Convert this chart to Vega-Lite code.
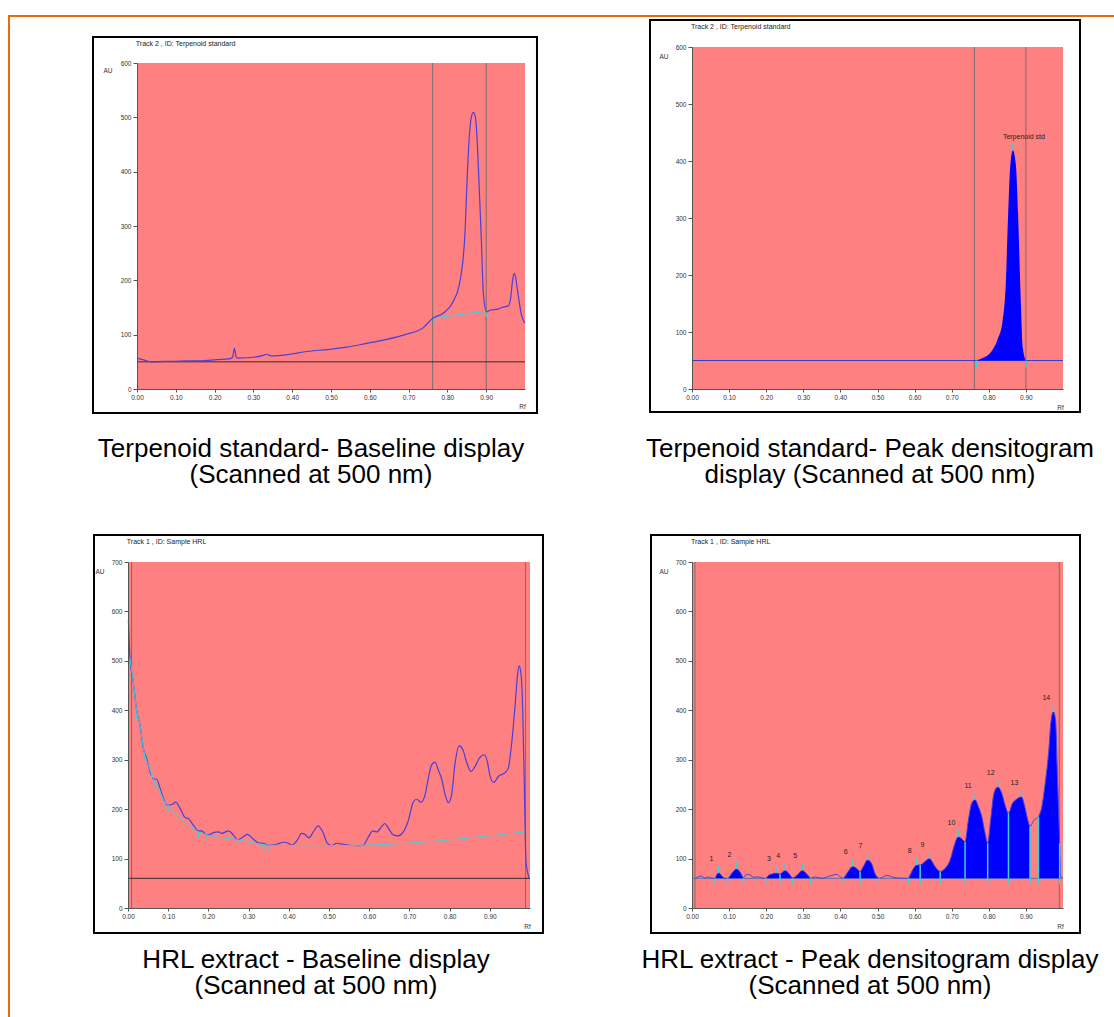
{
"$schema":"https://vega.github.io/schema/vega-lite/v6.json",
"background":"white",
"padding":0,
"columns":2,
"spacing":{"row":86,"column":0},
"bounds":"flush",
"align":"each",
"config":{
 "view":{"stroke":null},
 "axis":{"grid":false,"labelFont":"Liberation Sans","labelFontSize":6.5,"labelColor":"#333","tickColor":"#555","domainColor":"#555","tickSize":3,"labelPadding":2,"titleFont":"Liberation Sans","titleFontSize":6.5,"titleFontWeight":"normal","titleColor":"#333","labelOverlap":false,"labelFlush":false},
 "axisY":{"tickSize":4},
 "text":{"font":"Liberation Sans"}
},
"datasets":{
 "p1curve":[{"rf":0,"au":57},{"rf":0.015,"au":54},{"rf":0.038,"au":50},{"rf":0.07,"au":51},{"rf":0.094,"au":51},{"rf":0.13,"au":52},{"rf":0.162,"au":52},{"rf":0.205,"au":54},{"rf":0.24,"au":56},{"rf":0.246,"au":58},{"rf":0.251,"au":75},{"rf":0.256,"au":58},{"rf":0.261,"au":57},{"rf":0.308,"au":59},{"rf":0.325,"au":62},{"rf":0.334,"au":64},{"rf":0.345,"au":61},{"rf":0.394,"au":64},{"rf":0.437,"au":69},{"rf":0.497,"au":73},{"rf":0.54,"au":77},{"rf":0.592,"au":84},{"rf":0.635,"au":90},{"rf":0.695,"au":101},{"rf":0.738,"au":113},{"rf":0.762,"au":130},{"rf":0.79,"au":140},{"rf":0.815,"au":161},{"rf":0.832,"au":197},{"rf":0.845,"au":283},{"rf":0.852,"au":406},{"rf":0.858,"au":479},{"rf":0.863,"au":504},{"rf":0.867,"au":509},{"rf":0.871,"au":504},{"rf":0.875,"au":479},{"rf":0.88,"au":406},{"rf":0.887,"au":283},{"rf":0.893,"au":173},{"rf":0.901,"au":142},{"rf":0.91,"au":145},{"rf":0.931,"au":147},{"rf":0.94,"au":150},{"rf":0.957,"au":153},{"rf":0.963,"au":167},{"rf":0.968,"au":200},{"rf":0.972,"au":213},{"rf":0.976,"au":205},{"rf":0.98,"au":185},{"rf":0.991,"au":136},{"rf":1,"au":121}],
 "p1base":[{"rf":0.765,"au":131},{"rf":0.9,"au":143}],
 "p1vline":[{"rf":0.762},{"rf":0.9}],
 "p2peak":[{"rf":0.767,"au":50},{"rf":0.785,"au":55},{"rf":0.806,"au":65},{"rf":0.823,"au":86},{"rf":0.837,"au":118},{"rf":0.846,"au":188},{"rf":0.852,"au":305},{"rf":0.858,"au":393},{"rf":0.865,"au":419},{"rf":0.873,"au":393},{"rf":0.879,"au":305},{"rf":0.886,"au":159},{"rf":0.892,"au":71},{"rf":0.9,"au":50}],
 "p2vline":[{"rf":0.761},{"rf":0.9}],
 "p2brk":[{"rf":0.767},{"rf":0.9}],
 "p2top":[{"rf":0.865,"au":419,"name":"Terpenoid std"}],
 "p3curve":[{"rf":0.001,"au":583},{"rf":0.005,"au":505},{"rf":0.013,"au":458},{"rf":0.022,"au":397},{"rf":0.03,"au":370},{"rf":0.038,"au":323},{"rf":0.046,"au":303},{"rf":0.055,"au":276},{"rf":0.063,"au":261},{"rf":0.071,"au":261},{"rf":0.08,"au":242},{"rf":0.09,"au":218},{"rf":0.1,"au":208},{"rf":0.111,"au":210},{"rf":0.119,"au":214},{"rf":0.129,"au":202},{"rf":0.142,"au":183},{"rf":0.15,"au":181},{"rf":0.163,"au":167},{"rf":0.175,"au":156},{"rf":0.183,"au":156},{"rf":0.196,"au":148},{"rf":0.204,"au":149},{"rf":0.214,"au":153},{"rf":0.225,"au":154},{"rf":0.233,"au":151},{"rf":0.25,"au":156},{"rf":0.262,"au":148},{"rf":0.272,"au":138},{"rf":0.283,"au":142},{"rf":0.297,"au":149},{"rf":0.312,"au":139},{"rf":0.324,"au":132},{"rf":0.337,"au":131},{"rf":0.349,"au":127},{"rf":0.37,"au":129},{"rf":0.386,"au":133},{"rf":0.399,"au":131},{"rf":0.407,"au":127},{"rf":0.42,"au":136},{"rf":0.432,"au":151},{"rf":0.44,"au":149},{"rf":0.45,"au":142},{"rf":0.461,"au":154},{"rf":0.473,"au":166},{"rf":0.486,"au":151},{"rf":0.496,"au":131},{"rf":0.507,"au":126},{"rf":0.519,"au":131},{"rf":0.536,"au":129},{"rf":0.552,"au":127},{"rf":0.569,"au":126},{"rf":0.585,"au":127},{"rf":0.598,"au":144},{"rf":0.609,"au":156},{"rf":0.619,"au":154},{"rf":0.631,"au":165},{"rf":0.639,"au":171},{"rf":0.648,"au":161},{"rf":0.66,"au":148},{"rf":0.672,"au":146},{"rf":0.685,"au":154},{"rf":0.697,"au":176},{"rf":0.71,"au":215},{"rf":0.718,"au":220},{"rf":0.729,"au":214},{"rf":0.739,"au":229},{"rf":0.747,"au":262},{"rf":0.755,"au":289},{"rf":0.764,"au":295},{"rf":0.772,"au":279},{"rf":0.78,"au":262},{"rf":0.789,"au":229},{"rf":0.797,"au":213},{"rf":0.805,"au":229},{"rf":0.813,"au":289},{"rf":0.824,"au":328},{"rf":0.833,"au":320},{"rf":0.842,"au":296},{"rf":0.853,"au":276},{"rf":0.863,"au":286},{"rf":0.874,"au":303},{"rf":0.886,"au":310},{"rf":0.894,"au":296},{"rf":0.9,"au":269},{"rf":0.91,"au":254},{"rf":0.921,"au":266},{"rf":0.938,"au":274},{"rf":0.946,"au":283},{"rf":0.954,"au":330},{"rf":0.963,"au":411},{"rf":0.969,"au":471},{"rf":0.973,"au":490},{"rf":0.978,"au":471},{"rf":0.982,"au":397},{"rf":0.986,"au":242},{"rf":0.99,"au":94},{"rf":0.998,"au":60}],
 "p3base":[{"rf":0.005,"au":505},{"rf":0.013,"au":458},{"rf":0.022,"au":397},{"rf":0.03,"au":370},{"rf":0.04,"au":316},{"rf":0.05,"au":290},{"rf":0.063,"au":262},{"rf":0.075,"au":245},{"rf":0.09,"au":217},{"rf":0.1,"au":208},{"rf":0.175,"au":154},{"rf":0.197,"au":148},{"rf":0.272,"au":138},{"rf":0.35,"au":127},{"rf":0.45,"au":126},{"rf":0.58,"au":127},{"rf":0.988,"au":154}],
 "p3tick":[{"rf":0.022,"au":394},{"rf":0.04,"au":313},{"rf":0.059,"au":275},{"rf":0.067,"au":258},{"rf":0.092,"au":216},{"rf":0.1,"au":208},{"rf":0.175,"au":154},{"rf":0.197,"au":148},{"rf":0.272,"au":138},{"rf":0.341,"au":128},{"rf":0.351,"au":127},{"rf":0.561,"au":126},{"rf":0.581,"au":127}],
 "p3vline":[{"rf":0.009},{"rf":0.989}],
 "p4curve":[{"rf":0.008,"au":60,"seg":""},{"rf":0.017,"au":63,"seg":""},{"rf":0.026,"au":65,"seg":""},{"rf":0.035,"au":60,"seg":""},{"rf":0.044,"au":63,"seg":""},{"rf":0.053,"au":60,"seg":""},{"rf":0.062,"au":60,"seg":"A"},{"rf":0.068,"au":69,"seg":"A"},{"rf":0.073,"au":71,"seg":"A"},{"rf":0.08,"au":65,"seg":"A"},{"rf":0.089,"au":60,"seg":"A"},{"rf":0.096,"au":60,"seg":"A"},{"rf":0.107,"au":70,"seg":"A"},{"rf":0.12,"au":79,"seg":"A"},{"rf":0.131,"au":71,"seg":"A"},{"rf":0.138,"au":61,"seg":"A"},{"rf":0.147,"au":68,"seg":""},{"rf":0.156,"au":67,"seg":""},{"rf":0.167,"au":62,"seg":""},{"rf":0.179,"au":63,"seg":""},{"rf":0.188,"au":61,"seg":""},{"rf":0.199,"au":60,"seg":"B"},{"rf":0.208,"au":67,"seg":"B"},{"rf":0.217,"au":69,"seg":"B"},{"rf":0.226,"au":71,"seg":"B"},{"rf":0.237,"au":69,"seg":"B"},{"rf":0.251,"au":76,"seg":"B"},{"rf":0.264,"au":67,"seg":"B"},{"rf":0.271,"au":61,"seg":"B"},{"rf":0.284,"au":67,"seg":"B"},{"rf":0.297,"au":76,"seg":"B"},{"rf":0.309,"au":69,"seg":"B"},{"rf":0.32,"au":60,"seg":"B"},{"rf":0.332,"au":63,"seg":""},{"rf":0.35,"au":60,"seg":""},{"rf":0.372,"au":65,"seg":""},{"rf":0.39,"au":68,"seg":""},{"rf":0.401,"au":62,"seg":""},{"rf":0.408,"au":60,"seg":"C"},{"rf":0.421,"au":74,"seg":"C"},{"rf":0.433,"au":84,"seg":"C"},{"rf":0.444,"au":80,"seg":"C"},{"rf":0.453,"au":74,"seg":"C"},{"rf":0.462,"au":84,"seg":"C"},{"rf":0.473,"au":97,"seg":"C"},{"rf":0.484,"au":90,"seg":"C"},{"rf":0.493,"au":70,"seg":"C"},{"rf":0.505,"au":60,"seg":"C"},{"rf":0.516,"au":63,"seg":""},{"rf":0.525,"au":66,"seg":""},{"rf":0.543,"au":62,"seg":""},{"rf":0.57,"au":60,"seg":""},{"rf":0.583,"au":60,"seg":"D"},{"rf":0.597,"au":80,"seg":"D"},{"rf":0.606,"au":87,"seg":"D"},{"rf":0.615,"au":87,"seg":"D"},{"rf":0.628,"au":94,"seg":"D"},{"rf":0.64,"au":100,"seg":"D"},{"rf":0.655,"au":84,"seg":"D"},{"rf":0.669,"au":74,"seg":"D"},{"rf":0.682,"au":80,"seg":"D"},{"rf":0.696,"au":97,"seg":"D"},{"rf":0.706,"au":124,"seg":"D"},{"rf":0.718,"au":144,"seg":"D"},{"rf":0.727,"au":140,"seg":"D"},{"rf":0.736,"au":134,"seg":"D"},{"rf":0.745,"au":178,"seg":"D"},{"rf":0.754,"au":212,"seg":"D"},{"rf":0.763,"au":219,"seg":"D"},{"rf":0.772,"au":205,"seg":"D"},{"rf":0.781,"au":185,"seg":"D"},{"rf":0.79,"au":151,"seg":"D"},{"rf":0.797,"au":131,"seg":"D"},{"rf":0.805,"au":178,"seg":"D"},{"rf":0.814,"au":232,"seg":"D"},{"rf":0.824,"au":245,"seg":"D"},{"rf":0.835,"au":232,"seg":"D"},{"rf":0.844,"au":208,"seg":"D"},{"rf":0.853,"au":192,"seg":"D"},{"rf":0.864,"au":212,"seg":"D"},{"rf":0.875,"au":220,"seg":"D"},{"rf":0.888,"au":225,"seg":"D"},{"rf":0.897,"au":205,"seg":"D"},{"rf":0.905,"au":178,"seg":"D"},{"rf":0.911,"au":165,"seg":"D"},{"rf":0.922,"au":178,"seg":""},{"rf":0.934,"au":185,"seg":"E"},{"rf":0.943,"au":205,"seg":"E"},{"rf":0.952,"au":252,"seg":"E"},{"rf":0.961,"au":313,"seg":"E"},{"rf":0.968,"au":380,"seg":"E"},{"rf":0.974,"au":397,"seg":"E"},{"rf":0.98,"au":380,"seg":"E"},{"rf":0.985,"au":266,"seg":"E"},{"rf":0.991,"au":131,"seg":"E"},{"rf":0.994,"au":63,"seg":"E"},{"rf":0.998,"au":60,"seg":""}],
 "p4sep":[{"rf":0.237,"au":69},{"rf":0.453,"au":74},{"rf":0.615,"au":87},{"rf":0.669,"au":74},{"rf":0.736,"au":134},{"rf":0.797,"au":131},{"rf":0.853,"au":192},{"rf":0.911,"au":165},{"rf":0.934,"au":185},{"rf":0.991,"au":131}],
 "p4brk":[{"rf":0.062},{"rf":0.096},{"rf":0.138},{"rf":0.199},{"rf":0.237},{"rf":0.271},{"rf":0.32},{"rf":0.408},{"rf":0.453},{"rf":0.505},{"rf":0.583},{"rf":0.615},{"rf":0.669},{"rf":0.736},{"rf":0.797},{"rf":0.853},{"rf":0.911},{"rf":0.934},{"rf":0.991}],
 "p4peak":[{"peak":"1","rf":0.071,"au":71},{"peak":"2","rf":0.12,"au":79},{"peak":"3","rf":0.226,"au":71},{"peak":"4","rf":0.251,"au":76},{"peak":"5","rf":0.297,"au":76},{"peak":"6","rf":0.433,"au":84},{"peak":"7","rf":0.473,"au":97},{"peak":"8","rf":0.606,"au":87},{"peak":"9","rf":0.64,"au":100},{"peak":"10","rf":0.718,"au":144},{"peak":"11","rf":0.763,"au":219},{"peak":"12","rf":0.824,"au":245},{"peak":"13","rf":0.888,"au":225},{"peak":"14","rf":0.974,"au":397}],
 "p4vline":[{"rf":0.008},{"rf":0.99}]
},
"concat":[
 {
  "width":557,"height":414,
  "layer":[
   {"data":{"values":[{}]},"mark":{"type":"rect","fill":"white","stroke":"black","strokeWidth":2},
    "encoding":{"x":{"datum":-0.1134,"type":"quantitative","scale":{"domain":[0,1],"range":[137,525],"nice":false,"zero":false}},"x2":{"datum":1.0309},"y":{"datum":-44.2,"type":"quantitative","scale":{"domain":[0,600],"range":[389,63],"nice":false,"zero":false}},"y2":{"datum":647.9}}},
   {"data":{"values":[{}]},"mark":{"type":"rule","color":"#E46C0A","strokeWidth":2},
    "encoding":{"x":{"datum":-0.3325,"type":"quantitative"},"x2":{"datum":2.6},"y":{"datum":686.5,"type":"quantitative"}}},
   {"data":{"values":[{}]},"mark":{"type":"rule","color":"#E46C0A","strokeWidth":2},
    "encoding":{"x":{"datum":-0.3299,"type":"quantitative"},"y":{"datum":688,"type":"quantitative"},"y2":{"datum":-1200}}},
   {"data":{"values":[{}]},"mark":{"type":"rect","fill":"#FF8080"},
    "encoding":{"x":{"datum":0,"type":"quantitative"},"x2":{"datum":1},"y":{"datum":0,"type":"quantitative"},"y2":{"datum":600}}},
   {"data":{"name":"p1vline"},"mark":{"type":"rule","color":"#786c6c","strokeWidth":1},
    "encoding":{"x":{"field":"rf","type":"quantitative"},"y":{"datum":0,"type":"quantitative"},"y2":{"datum":600}}},
   {"data":{"values":[{}]},"mark":{"type":"rule","color":"#3b2b2b","strokeWidth":1},
    "encoding":{"x":{"datum":0,"type":"quantitative"},"x2":{"datum":1},"y":{"datum":50,"type":"quantitative"}}},
   {"data":{"name":"p1base"},"mark":{"type":"line","color":"#3fcfd6","strokeWidth":1.2},
    "encoding":{"x":{"field":"rf","type":"quantitative"},"y":{"field":"au","type":"quantitative"}}},
   {"data":{"name":"p1base"},"mark":{"type":"rule","color":"#3fcfd6","strokeWidth":1.5,"y2Offset":6},
    "encoding":{"x":{"field":"rf","type":"quantitative"},"y":{"field":"au","type":"quantitative"},"y2":{"field":"au"}}},
   {"data":{"name":"p1curve"},"mark":{"type":"line","color":"#4b3fd9","strokeWidth":1.2,"interpolate":"monotone"},
    "encoding":{"x":{"field":"rf","type":"quantitative","scale":{"domain":[0,1],"range":[137,525],"nice":false,"zero":false},"axis":{"values":[0,0.1,0.2,0.3,0.4,0.5,0.6,0.7,0.8,0.9],"format":".2f","offset":-25,"title":"Rf","titleX":522,"titleY":14,"zindex":1}},
     "y":{"field":"au","type":"quantitative","scale":{"domain":[0,600],"range":[389,63],"nice":false,"zero":false},"axis":{"values":[0,100,200,300,400,500,600],"format":"d","offset":-137,"title":"AU","titleAngle":0,"titleAlign":"left","titleBaseline":"middle","titleX":-34,"titleY":70,"zindex":1}}}},
   {"data":{"values":[{}]},"mark":{"type":"text","align":"left","baseline":"middle","fontSize":7,"color":"#222"},
    "encoding":{"x":{"datum":-0.003,"type":"quantitative"},"y":{"datum":635,"type":"quantitative"},"text":{"value":"Track  2 , ID: Terpenoid standard"}}},
   {"data":{"values":[{}]},"mark":{"type":"text","align":"center","baseline":"alphabetic","fontSize":26,"lineHeight":26,"color":"#000"},
    "encoding":{"x":{"datum":0.4485,"type":"quantitative"},"y":{"datum":-125.2,"type":"quantitative"},"text":{"value":["Terpenoid standard- Baseline display","(Scanned at 500 nm)"]}}}
  ]
 },
 {
  "width":557,"height":414,
  "layer":[
   {"data":{"values":[{}]},"mark":{"type":"rect","fill":"white","stroke":"black","strokeWidth":2},
    "encoding":{"x":{"datum":-0.1132,"type":"quantitative","scale":{"domain":[0,1],"range":[135,506],"nice":false,"zero":false}},"x2":{"datum":1.0458},"y":{"datum":-40.4,"type":"quantitative","scale":{"domain":[0,600],"range":[389,47],"nice":false,"zero":false}},"y2":{"datum":647.4}}},
   {"data":{"values":[{}]},"mark":{"type":"rect","fill":"#FF8080"},
    "encoding":{"x":{"datum":0,"type":"quantitative"},"x2":{"datum":1},"y":{"datum":0,"type":"quantitative"},"y2":{"datum":600}}},
   {"data":{"name":"p2vline"},"mark":{"type":"rule","color":"#786c6c","strokeWidth":1},
    "encoding":{"x":{"field":"rf","type":"quantitative"},"y":{"datum":0,"type":"quantitative"},"y2":{"datum":600}}},
   {"data":{"values":[{}]},"mark":{"type":"rule","color":"#3a3ad0","strokeWidth":1},
    "encoding":{"x":{"datum":0,"type":"quantitative"},"x2":{"datum":1},"y":{"datum":50,"type":"quantitative"}}},
   {"data":{"name":"p2peak"},"mark":{"type":"area","color":"#0000FF","interpolate":"monotone"},
    "encoding":{"x":{"field":"rf","type":"quantitative","scale":{"domain":[0,1],"range":[135,506],"nice":false,"zero":false},"axis":{"values":[0,0.1,0.2,0.3,0.4,0.5,0.6,0.7,0.8,0.9],"format":".2f","offset":-25,"title":"Rf","titleX":503,"titleY":15,"zindex":1}},
     "y":{"field":"au","type":"quantitative","scale":{"domain":[0,600],"range":[389,47],"nice":false,"zero":false},"axis":{"values":[0,100,200,300,400,500,600],"format":"d","offset":-135,"title":"AU","titleAngle":0,"titleAlign":"left","titleBaseline":"middle","titleX":-33,"titleY":56,"zindex":1}},
     "y2":{"datum":50}}},
   {"data":{"name":"p2brk"},"mark":{"type":"rule","color":"#3fcfd6","strokeWidth":1.5,"y2Offset":7},
    "encoding":{"x":{"field":"rf","type":"quantitative"},"y":{"datum":50,"type":"quantitative"},"y2":{"datum":50}}},
   {"data":{"name":"p2top"},"mark":{"type":"rule","color":"#3fcfd6","strokeWidth":1.5,"y2Offset":-7},
    "encoding":{"x":{"field":"rf","type":"quantitative"},"y":{"field":"au","type":"quantitative"},"y2":{"field":"au"}}},
   {"data":{"name":"p2top"},"mark":{"type":"text","align":"center","baseline":"middle","fontSize":7,"color":"#222","dx":11,"dy":-13},
    "encoding":{"x":{"field":"rf","type":"quantitative"},"y":{"field":"au","type":"quantitative"},"text":{"field":"name","type":"nominal"}}},
   {"data":{"values":[{}]},"mark":{"type":"text","align":"left","baseline":"middle","fontSize":7,"color":"#222"},
    "encoding":{"x":{"datum":-0.003,"type":"quantitative"},"y":{"datum":635,"type":"quantitative"},"text":{"value":"Track  2 , ID: Terpenoid standard"}}},
   {"data":{"values":[{}]},"mark":{"type":"text","align":"center","baseline":"alphabetic","fontSize":26,"lineHeight":26,"color":"#000"},
    "encoding":{"x":{"datum":0.4798,"type":"quantitative"},"y":{"datum":-119.3,"type":"quantitative"},"text":{"value":["Terpenoid standard- Peak densitogram","display (Scanned at 500 nm)"]}}}
  ]
 },
 {
  "width":557,"height":434,
  "layer":[
   {"data":{"values":[{}]},"mark":{"type":"rect","fill":"white","stroke":"black","strokeWidth":2},
    "encoding":{"x":{"datum":-0.0846,"type":"quantitative","scale":{"domain":[0,1],"range":[128,530],"nice":false,"zero":false}},"x2":{"datum":1.0323},"y":{"datum":-50.6,"type":"quantitative","scale":{"domain":[0,700],"range":[408,62],"nice":false,"zero":false}},"y2":{"datum":754.6}}},
   {"data":{"values":[{}]},"mark":{"type":"rect","fill":"#FF8080"},
    "encoding":{"x":{"datum":0,"type":"quantitative"},"x2":{"datum":1},"y":{"datum":0,"type":"quantitative"},"y2":{"datum":700}}},
   {"data":{"name":"p3vline"},"mark":{"type":"rule","color":"#786c6c","strokeWidth":1},
    "encoding":{"x":{"field":"rf","type":"quantitative"},"y":{"datum":0,"type":"quantitative"},"y2":{"datum":700}}},
   {"data":{"values":[{}]},"mark":{"type":"rule","color":"#3b2b2b","strokeWidth":1},
    "encoding":{"x":{"datum":0,"type":"quantitative"},"x2":{"datum":1},"y":{"datum":60,"type":"quantitative"}}},
   {"data":{"name":"p3curve"},"mark":{"type":"line","color":"#4b3fd9","strokeWidth":1.2,"interpolate":"monotone"},
    "encoding":{"x":{"field":"rf","type":"quantitative","scale":{"domain":[0,1],"range":[128,530],"nice":false,"zero":false},"axis":{"values":[0,0.1,0.2,0.3,0.4,0.5,0.6,0.7,0.8,0.9],"format":".2f","offset":-26,"title":"Rf","titleX":527,"titleY":15,"zindex":1}},
     "y":{"field":"au","type":"quantitative","scale":{"domain":[0,700],"range":[408,62],"nice":false,"zero":false},"axis":{"values":[0,100,200,300,400,500,600,700],"format":"d","offset":-128,"title":"AU","titleAngle":0,"titleAlign":"left","titleBaseline":"middle","titleX":-33,"titleY":71,"zindex":1}}}},
   {"data":{"name":"p3base"},"mark":{"type":"line","color":"#3fcfd6","strokeWidth":1,"interpolate":"monotone"},
    "encoding":{"x":{"field":"rf","type":"quantitative"},"y":{"field":"au","type":"quantitative"}}},
   {"data":{"name":"p3tick"},"mark":{"type":"rule","color":"#3fcfd6","strokeWidth":1.2,"y2Offset":6},
    "encoding":{"x":{"field":"rf","type":"quantitative"},"y":{"field":"au","type":"quantitative"},"y2":{"field":"au"}}},
   {"data":{"values":[{}]},"mark":{"type":"text","align":"left","baseline":"middle","fontSize":7,"color":"#222"},
    "encoding":{"x":{"datum":-0.003,"type":"quantitative"},"y":{"datum":740.5,"type":"quantitative"},"text":{"value":"Track  1 , ID: Sample HRL"}}},
   {"data":{"values":[{}]},"mark":{"type":"text","align":"center","baseline":"alphabetic","fontSize":26,"lineHeight":26,"color":"#000"},
    "encoding":{"x":{"datum":0.4677,"type":"quantitative"},"y":{"datum":-121.4,"type":"quantitative"},"text":{"value":["HRL extract - Baseline display","(Scanned at 500 nm)"]}}}
  ]
 },
 {
  "width":557,"height":434,
  "layer":[
   {"data":{"values":[{}]},"mark":{"type":"rect","fill":"white","stroke":"black","strokeWidth":2},
    "encoding":{"x":{"datum":-0.1105,"type":"quantitative","scale":{"domain":[0,1],"range":[135,506],"nice":false,"zero":false}},"x2":{"datum":1.0458},"y":{"datum":-50.6,"type":"quantitative","scale":{"domain":[0,700],"range":[408,62],"nice":false,"zero":false}},"y2":{"datum":754.6}}},
   {"data":{"values":[{}]},"mark":{"type":"rect","fill":"#FF8080"},
    "encoding":{"x":{"datum":0,"type":"quantitative"},"x2":{"datum":1},"y":{"datum":0,"type":"quantitative"},"y2":{"datum":700}}},
   {"data":{"name":"p4vline"},"mark":{"type":"rule","color":"#786c6c","strokeWidth":1},
    "encoding":{"x":{"field":"rf","type":"quantitative"},"y":{"datum":0,"type":"quantitative"},"y2":{"datum":700}}},
   {"data":{"values":[{}]},"mark":{"type":"rule","color":"#5a78a8","strokeWidth":1},
    "encoding":{"x":{"datum":0,"type":"quantitative"},"x2":{"datum":1},"y":{"datum":60,"type":"quantitative"}}},
   {"data":{"name":"p4curve"},"transform":[{"filter":{"field":"seg","oneOf":["A","B","C","D","E"]}}],"mark":{"type":"area","color":"#0000FF","interpolate":"monotone"},
    "encoding":{"x":{"field":"rf","type":"quantitative"},"y":{"field":"au","type":"quantitative","stack":null},"y2":{"datum":60},"detail":{"field":"seg","type":"nominal"}}},
   {"data":{"name":"p4curve"},"mark":{"type":"line","color":"#4a40e0","strokeWidth":1,"interpolate":"monotone"},
    "encoding":{"x":{"field":"rf","type":"quantitative","scale":{"domain":[0,1],"range":[135,506],"nice":false,"zero":false},"axis":{"values":[0,0.1,0.2,0.3,0.4,0.5,0.6,0.7,0.8,0.9],"format":".2f","offset":-26,"title":"Rf","titleX":503,"titleY":15,"zindex":1}},
     "y":{"field":"au","type":"quantitative","scale":{"domain":[0,700],"range":[408,62],"nice":false,"zero":false},"axis":{"values":[0,100,200,300,400,500,600,700],"format":"d","offset":-135,"title":"AU","titleAngle":0,"titleAlign":"left","titleBaseline":"middle","titleX":-33,"titleY":71,"zindex":1}}}},
   {"data":{"name":"p4sep"},"mark":{"type":"rule","color":"#3fcfd6","strokeWidth":1.5},
    "encoding":{"x":{"field":"rf","type":"quantitative"},"y":{"field":"au","type":"quantitative"},"y2":{"datum":60}}},
   {"data":{"name":"p4brk"},"mark":{"type":"rule","color":"#3fcfd6","strokeWidth":1.5,"y2Offset":6},
    "encoding":{"x":{"field":"rf","type":"quantitative"},"y":{"datum":60,"type":"quantitative"},"y2":{"datum":60}}},
   {"data":{"name":"p4peak"},"mark":{"type":"rule","color":"#3fcfd6","strokeWidth":1.5,"y2Offset":-7},
    "encoding":{"x":{"field":"rf","type":"quantitative"},"y":{"field":"au","type":"quantitative"},"y2":{"field":"au"}}},
   {"data":{"name":"p4peak"},"mark":{"type":"text","align":"center","baseline":"middle","fontSize":7,"color":"#222","dx":-7,"dy":-14},
    "encoding":{"x":{"field":"rf","type":"quantitative"},"y":{"field":"au","type":"quantitative"},"text":{"field":"peak","type":"nominal"}}},
   {"data":{"values":[{}]},"mark":{"type":"text","align":"left","baseline":"middle","fontSize":7,"color":"#222"},
    "encoding":{"x":{"datum":-0.003,"type":"quantitative"},"y":{"datum":740.5,"type":"quantitative"},"text":{"value":"Track  1 , ID: Sample HRL"}}},
   {"data":{"values":[{}]},"mark":{"type":"text","align":"center","baseline":"alphabetic","fontSize":26,"lineHeight":26,"color":"#000"},
    "encoding":{"x":{"datum":0.4798,"type":"quantitative"},"y":{"datum":-121.4,"type":"quantitative"},"text":{"value":["HRL extract - Peak densitogram display","(Scanned at 500 nm)"]}}}
  ]
 }
]
}
